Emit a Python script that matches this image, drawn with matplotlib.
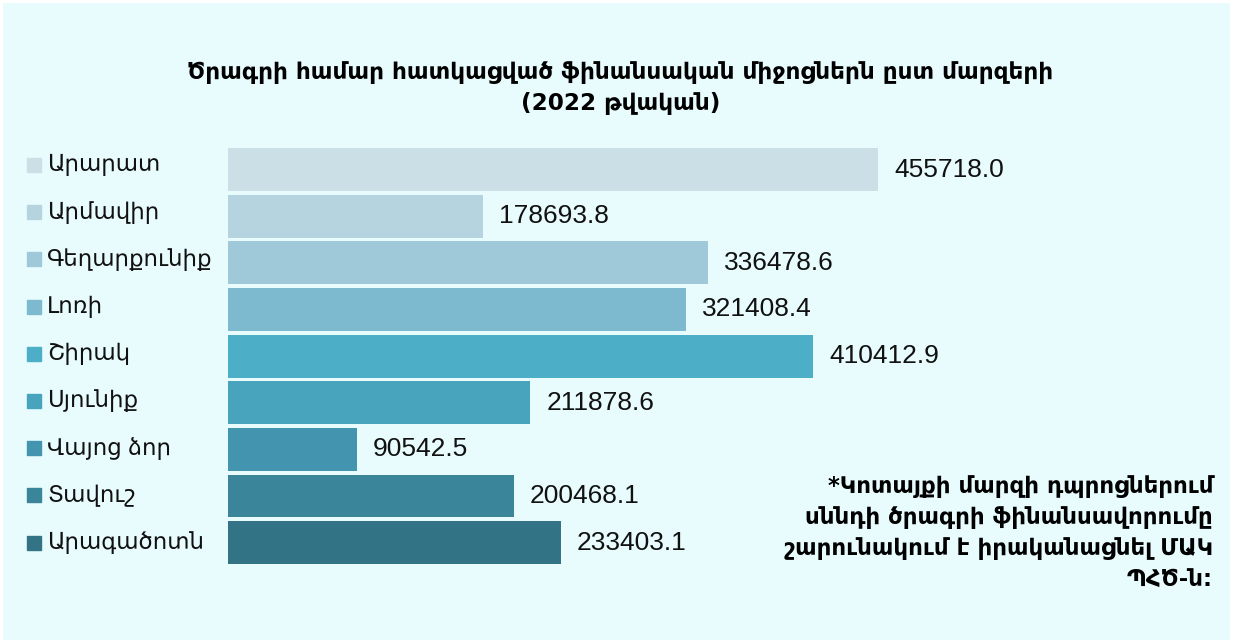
import matplotlib.pyplot as plt
from matplotlib.transforms import blended_transform_factory

# Regions and allocated funds (2022)
regions = ['Արարատ', 'Արմավիր', 'Գեղարքունիք', 'Լոռի', 'Շիրակ',
           'Սյունիք', 'Վայոց ձոր', 'Տավուշ', 'Արագածոտն']
funds = [455718.0, 178693.8, 336478.6, 321408.4, 410412.9,
         211878.6, 90542.5, 200468.1, 233403.1]
colors = ['#cbdfe7', '#b5d4df', '#9fc9d8', '#7dbacf', '#4cafc7',
          '#48a3bc', '#4394ae', '#3a8599', '#327486']

title = 'Ծրագրի համար հատկացված ֆինանսական միջոցներն ըստ մարզերի\n(2022 թվական)'
note = ('*Կոտայքի մարզի դպրոցներում\nսննդի ծրագրի ֆինանսավորումը\n'
        'շարունակում է իրականացնել ՄԱԿ\nՊՀԾ-ն:')

plt.rcParams['font.family'] = ['Liberation Sans', 'DejaVu Sans']

W, H = 1233, 643
bg = '#e8fcfe'
fig = plt.figure(figsize=(W / 100, H / 100), dpi=100, facecolor=bg,
                 edgecolor='white', linewidth=3)

# axes placed in pixel terms
left, right_px = 228, 228 + 998.4
top, bottom = 146.2, 566.0
ax = fig.add_axes([left / W, (H - bottom) / H, (right_px - left) / W,
                   (bottom - top) / H])
ax.set_facecolor(bg)

y = list(range(len(regions)))
ax.barh(y, funds, height=0.92, color=colors)
ax.set_xlim(0, 700000)
ax.set_ylim(len(regions) - 0.5, -0.5)
ax.axis('off')

# value labels
for yi, v in zip(y, funds):
    ax.annotate(f'{v:.1f}', (v, yi), xytext=(11.5, 0),
                textcoords='offset points', va='center', ha='left',
                fontsize=19, color='#111111')

# legend-like labels on the left
tr = blended_transform_factory(fig.transFigure, ax.transData)
for yi, name, c in zip(y, regions, colors):
    off = -0.1 * (1 - yi / 8)
    ax.plot([34 / W], [yi + off], marker='s', markersize=10, color=c,
            transform=tr, clip_on=False, linestyle='none')
    ax.text(47 / W, yi + off, name, transform=tr, va='center', ha='left',
            fontsize=16.5, color='#111111')

fig.text(0.503, 1 - 88 / H, title, ha='center', va='center',
         fontsize=16.7, fontweight='bold', linespacing=1.45,
         family=['DejaVu Sans'])
fig.text(1213 / W, 1 - 533 / H, note, ha='right', va='center',
         fontsize=16.5, fontweight='bold', linespacing=1.45,
         family=['DejaVu Sans'])

fig.savefig('out.png', dpi=100, facecolor=bg, edgecolor='white')
